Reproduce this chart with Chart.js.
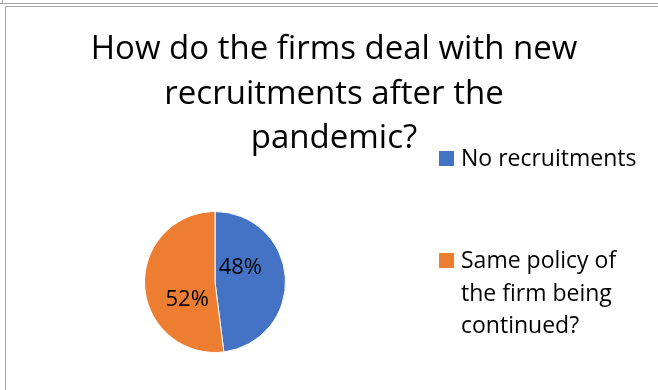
<!DOCTYPE html>
<html>
<head>
<meta charset="utf-8">
<script src="https://cdn.jsdelivr.net/npm/chart.js@4.4.1/dist/chart.umd.min.js"></script>
<style>
  html, body { margin: 0; padding: 0; background: #ffffff; }
  #wrap { position: relative; width: 658px; height: 390px; }
  canvas { display: block; }
</style>
</head>
<body>
<div id="wrap"><canvas id="c" width="658" height="390"></canvas></div>
<script>
// Survey answers: how firms handle new recruitments after the pandemic
const categories = ["No recruitments", "Same policy of the firm being continued?"];
const legendLines = [["No recruitments"], ["Same policy of", "the firm being", "continued?"]];
const shares = [48, 52];
const sliceColors = ["#4472C4", "#ED7D31"];
const titleLines = ["How do the firms deal with new", "recruitments after the", "pandemic?"];

const FONT = "'Open Sans', Lato, sans-serif";

// Frame lines around the chart object
const framePlugin = {
  id: "frame",
  beforeDraw(chart) {
    const ctx = chart.ctx;
    ctx.save();
    ctx.strokeStyle = "#a5a5a5";
    ctx.lineWidth = 1;
    ctx.beginPath();
    ctx.moveTo(0, 3.5); ctx.lineTo(658, 3.5);
    ctx.moveTo(2.5, 0); ctx.lineTo(2.5, 4);
    ctx.moveTo(5.5, 390); ctx.lineTo(5.5, 6.5); ctx.lineTo(658, 6.5);
    ctx.stroke();
    ctx.restore();
  }
};

// Multi-line title centred above the plot
const titlePlugin = {
  id: "bigTitle",
  afterDraw(chart) {
    const ctx = chart.ctx;
    ctx.save();
    ctx.fillStyle = "#000000";
    ctx.font = "33px " + FONT;
    ctx.textAlign = "center";
    ctx.textBaseline = "alphabetic";
    const baselines = [59, 103.5, 148];
    titleLines.forEach((t, i) => ctx.fillText(t, 334, baselines[i]));
    ctx.restore();
  }
};

// Percentage labels inside each slice
const labelPlugin = {
  id: "sliceLabels",
  afterDatasetsDraw(chart) {
    const ctx = chart.ctx;
    const meta = chart.getDatasetMeta(0);
    const total = shares.reduce((a, b) => a + b, 0);
    // angle shift (rad) and radius fraction for each label
    const place = [[-0.44, 0.41], [-0.51, 0.47]];
    ctx.save();
    ctx.fillStyle = "#000000";
    ctx.font = "22px " + FONT;
    ctx.textAlign = "center";
    ctx.textBaseline = "middle";
    meta.data.forEach((arc, i) => {
      const p = arc.getProps(["x", "y", "startAngle", "endAngle", "outerRadius"], true);
      const mid = (p.startAngle + p.endAngle) / 2 + place[i][0];
      const r = p.outerRadius * place[i][1];
      const txt = Math.round(shares[i] / total * 100) + "%";
      ctx.fillText(txt, p.x + Math.cos(mid) * r, p.y + Math.sin(mid) * r);
    });
    ctx.restore();
  }
};

// Legend at the right, one wrapped entry per slice
const legendPlugin = {
  id: "sideLegend",
  afterDraw(chart) {
    const ctx = chart.ctx;
    const tops = [151, 253];
    ctx.save();
    ctx.font = "23px " + FONT;
    ctx.textAlign = "left";
    ctx.textBaseline = "alphabetic";
    categories.forEach((name, i) => {
      ctx.fillStyle = sliceColors[i];
      ctx.fillRect(439, tops[i], 15, 15);
      ctx.fillStyle = "#000000";
      legendLines[i].forEach((ln, j) => ctx.fillText(ln, 461, tops[i] + 15 + j * 32.5));
    });
    ctx.restore();
  }
};

new Chart(document.getElementById("c"), {
  type: "pie",
  data: {
    labels: categories,
    datasets: [{
      data: shares,
      backgroundColor: sliceColors,
      borderColor: "#ffffff",
      borderWidth: 1
    }]
  },
  options: {
    responsive: false,
    animation: false,
    layout: { padding: { left: 144, right: 372, top: 211, bottom: 37 } },
    plugins: {
      legend: { display: false },
      title: { display: false },
      tooltip: { enabled: false }
    }
  },
  plugins: [framePlugin, titlePlugin, labelPlugin, legendPlugin]
});
</script>
</body>
</html>
